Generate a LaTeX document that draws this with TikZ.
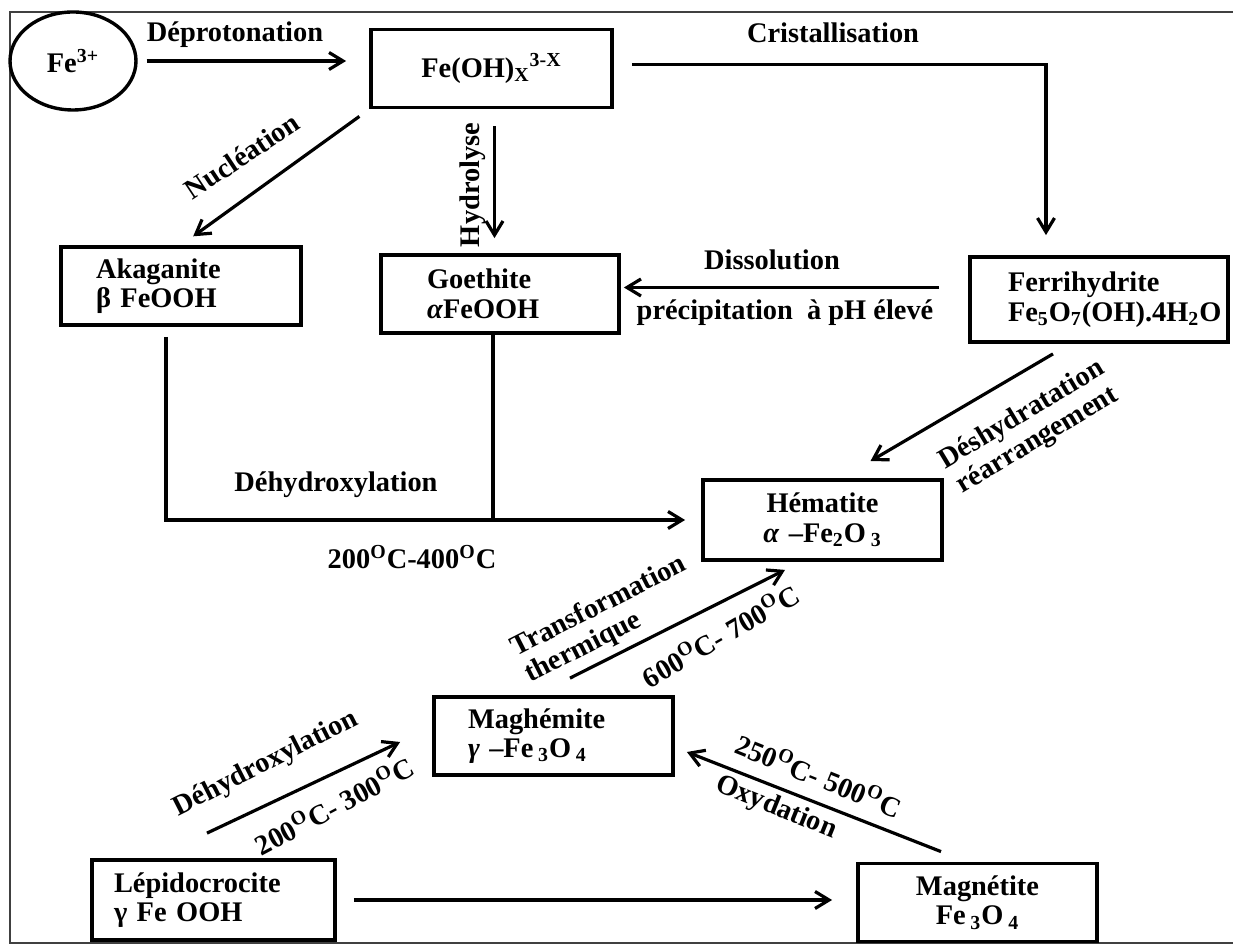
\documentclass[tikz,border=0pt]{standalone}
\usepackage{fontspec}
\setmainfont{Liberation Serif}
\usepackage{tikz}
\usetikzlibrary{calc,shapes,positioning}
\usetikzlibrary{arrows.meta}
\tikzset{>={Straight Barb[width=8.5pt,length=7pt]}}
\newcommand{\degO}{\textsuperscript{O}}

\begin{document}
\begin{tikzpicture}[x=0.5pt, y=-0.5pt, font=\bfseries\fontsize{14.2}{14.8}\selectfont]
          \tikzstyle{bnode} = [draw, line width=1.9pt, rectangle, minimum height=39pt, inner ysep=2pt]
          \tikzstyle{lnode} = [inner sep=1pt, align=center]
          \tikzstyle{conn} = [->, line width=1.6pt]
          \useasboundingbox (0,0) rectangle (1233,945);
          \draw[line width=1pt, black!75] (1233,12) -- (10,12) -- (10,943) -- (1233,943);

          \node[draw, ellipse, line width=1.7pt, minimum width=63pt, minimum height=49pt, inner sep=0pt] (fe) at (73,61) {Fe\textsuperscript{3+}};
          \node[bnode, minimum width=120.5pt] (feoh) at (491.5,68.5) {Fe(OH)\textsubscript{X}\textsuperscript{3-X}};
          \node[bnode, text width=85pt, inner xsep=17.5pt, align=left] (aka) at (181,286) {Akaganite\\β FeOOH};
          \node[bnode, text width=73pt, inner xsep=23pt, align=left] (goe) at (500,294) {Goethite\\\textit{α}FeOOH};
          \node[bnode, text width=91pt, inner xsep=19pt, align=left, minimum height=42.5pt] (ferri) at (1099,299.5) {Ferrihydrite\\Fe\textsubscript{5}O\textsubscript{7}(OH).4H\textsubscript{2}O};
          \node[bnode, text width=110pt, inner xsep=4.75pt, align=center, minimum height=40pt] (hema) at (822.5,520) {Hématite\\\textit{α} –Fe\textsubscript{2}O\,\textsubscript{3}};
          \node[bnode, text width=85.5pt, inner xsep=17pt, align=left] (magh) at (553.5,736) {Maghémite\\\textit{γ} –Fe\,\textsubscript{3}O\,\textsubscript{4}};
          \node[bnode, text width=99.5pt, inner xsep=11pt, align=left, minimum height=40pt] (lepi) at (213.5,900) {Lépidocrocite\\γ Fe OOH};
          \node[bnode, text width=110pt, inner xsep=4.75pt, align=center] (magn) at (977.5,902.5) {Magnétite\\Fe\,\textsubscript{3}O\,\textsubscript{4}};

          \draw[conn, shorten <=4.5pt, shorten >=11.5pt] (fe.east) -- (fe.east -| feoh.west);
          \draw[conn, shorten <=9pt, shorten >=10pt] ([yshift=2pt]feoh.east) -| ([xshift=-26.5pt]ferri.north);
          \draw[conn, shorten <=6pt, shorten >=7.5pt] (feoh.south west) -- (aka.north);
          \draw[conn, shorten <=8.5pt, shorten >=7.5pt] ([xshift=1.5pt]feoh.south) -- ([xshift=1.5pt]feoh.south |- goe.north);
          \draw[conn, shorten <=14.5pt, shorten >=1.5pt] ([yshift=6pt]ferri.west) -- ([yshift=6pt]ferri.west -| goe.east);
          \draw[conn] ([shift={(-23pt,-5pt)}]ferri.south) -- ([shift={(24pt,8.5pt)}]hema.north);
          \draw[conn, shorten >=8pt] ([shift={(-7.5pt,-5pt)}]aka.south) |- (hema.west);
          \draw[line width=1.6pt] ([xshift=-3.5pt]goe.south) -- ([xshift=-3.5pt]goe.south |- hema.west);
          \draw[conn] ([shift={(8.25pt,8.5pt)}]magh.north) -- ([shift={(-18.75pt,-4pt)}]hema.south);
          \draw[conn] ([shift={(-3.25pt,12.5pt)}]lepi.north) -- ([shift={(-16pt,-3pt)}]magh.west);
          \draw[conn] ([shift={(-18.25pt,5pt)}]magn.north) -- ([shift={(6pt,-8pt)}]magh.east);
          \draw[conn, shorten <=8.5pt, shorten >=12pt] (lepi.east) -- (lepi.east -| magn.west);

          \node[lnode] (ldep) at (235,35) {Déprotonation};
          \node[lnode] (lcri) at (833,33) {Cristallisation};
          \node[lnode, rotate=33.6] (lnuc) at (242,156) {Nucléation};
          \node[lnode, rotate=90] (lhyd) at (473,185) {Hydrolyse};
          \node[lnode] (ldis) at (772,260) {Dissolution};
          \node[lnode] (lpre) at (785,313) {précipitation~ à pH élevé};
          \node[lnode, rotate=31] (ldes) at (1030,428) {Déshydratation\\réarrangement};
          \node[lnode] (ldeh) at (336,485) {Déhydroxylation};
          \node[lnode] (lt1) at (412,557) {200\degO C-400\degO C};
          \node[lnode, rotate=27, align=left] (ltra) at (606,620) {Transformation\\thermique};
          \node[lnode, rotate=30] (lt2) at (720,635) {600\degO C- 700\degO C};
          \node[lnode, rotate=27] (ldeh2) at (266,764) {Déhydroxylation};
          \node[lnode, rotate=28] (lt3) at (334,805) {200\degO C- 300\degO C};
          \node[lnode, rotate=-22] (lt4) at (819,775) {250\degO C- 500\degO C};
          \node[lnode, rotate=-22] (loxy) at (776,808) {Oxydation};
        \end{tikzpicture}
\end{document}
